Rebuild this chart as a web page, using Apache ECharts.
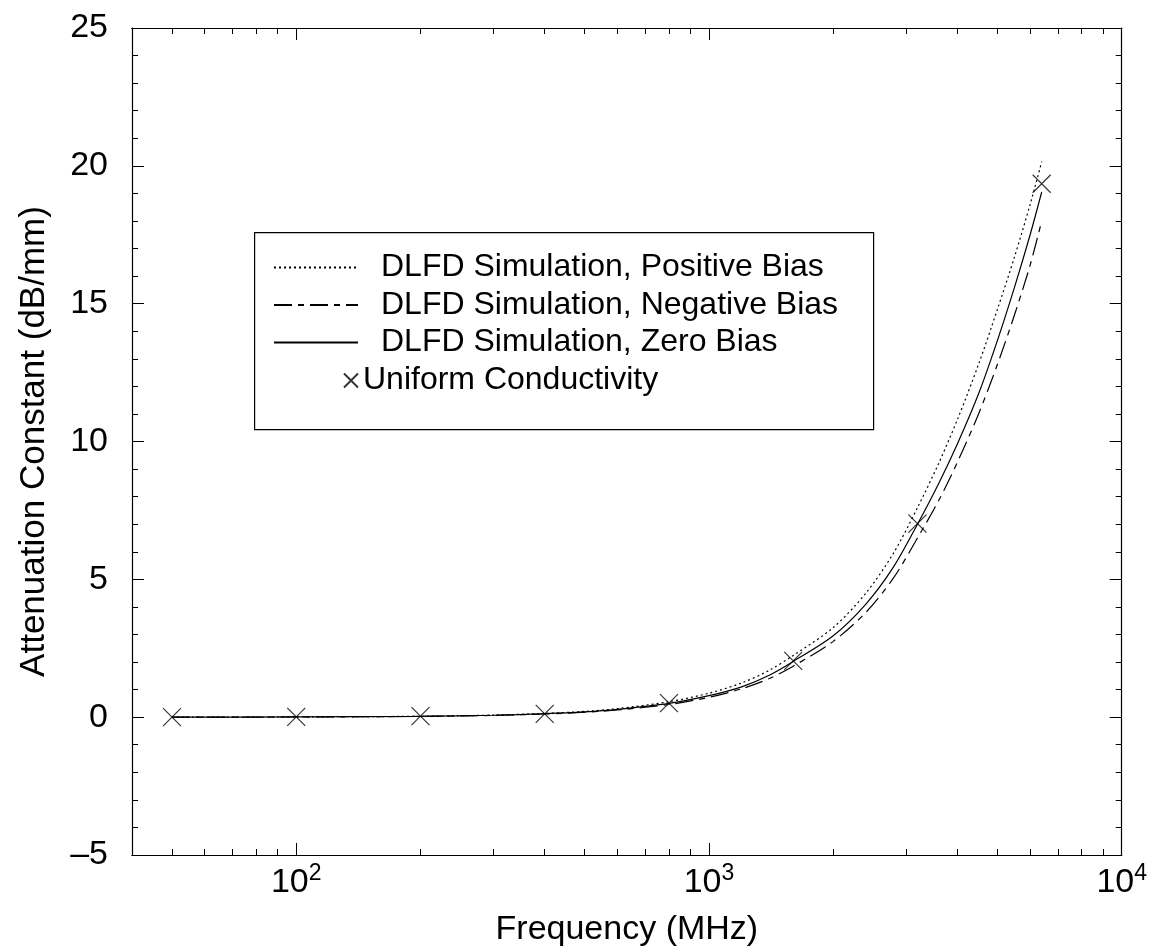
<!DOCTYPE html>
<html>
<head>
<meta charset="utf-8">
<script src="https://cdn.jsdelivr.net/npm/echarts@6/dist/echarts.min.js"></script>
<style>
  html, body { margin: 0; padding: 0; background: #fff; }
  #chart { width: 1150px; height: 952px; }
</style>
</head>
<body>
<div id="chart"></div>
<script>
const freqs = [50, 100, 200, 300, 400, 500, 600, 800, 1000, 1200, 1400, 1600, 2000, 2400, 2800, 3200, 3600, 4000, 4500, 5000, 5500, 6000, 6400]
const positiveBias = [0.002, 0.009, 0.033, 0.075, 0.135, 0.21, 0.31, 0.56, 0.87, 1.24, 1.70, 2.24, 3.25, 4.5, 5.95, 7.6, 9.2, 10.8, 12.8, 14.8, 16.7, 18.6, 20.15]
const negativeBias = [0.002, 0.007, 0.028, 0.065, 0.115, 0.18, 0.26, 0.46, 0.72, 1.03, 1.40, 1.85, 2.75, 3.8, 5.05, 6.5, 7.85, 9.25, 11.0, 12.8, 14.6, 16.4, 18.0]
const zeroBias = [0.002, 0.008, 0.03, 0.07, 0.125, 0.19, 0.28, 0.50, 0.78, 1.10, 1.52, 2.02, 2.95, 4.1, 5.45, 7.0, 8.47, 9.92, 11.73, 13.67, 15.6, 17.5, 19.05]
const uniformFreqs = [50, 100, 200, 400, 800, 1600, 3200, 6400]
const uniformValues = [0.0, 0.01, 0.04, 0.12, 0.51, 2.04, 7.02, 19.35]
const majorTicks = [100, 1000, 10000]
const minorTicks = [50, 60, 70, 80, 90, 200, 300, 400, 500, 600, 700, 800, 900,
  2000, 3000, 4000, 5000, 6000, 7000, 8000, 9000]

const font = 'Liberation Sans, Arial, Helvetica, sans-serif'
const lg = Math.log10
const xMin = lg(40), xMax = lg(10000)
const pts = (fs, vs) => fs.map((f, i) => [lg(f), vs[i]])
const cross = 'path://M0,0L10,10M10,0L0,10'

const chart = echarts.init(document.getElementById('chart'))

const baseX = (pos, ticks, len, labels) => ({
  type: 'value', position: pos, min: xMin, max: xMax,
  axisLine: { show: true, onZero: false, lineStyle: { color: '#000', width: 1.2 } },
  axisTick: { show: true, inside: true, length: len, customValues: ticks.map(lg), lineStyle: { color: '#000', width: 1 } },
  axisLabel: labels ? {
    show: true, margin: 7, customValues: majorTicks.map(lg),
    formatter: v => '{b|10}{s|' + Math.round(v) + '}',
    rich: {
      b: { fontSize: 34, fontFamily: font, color: '#000' },
      s: { fontSize: 23, fontFamily: font, color: '#000', padding: [0, 0, 18, 0] }
    }
  } : { show: false },
  splitLine: { show: false }
})

const baseY = (pos, labels) => ({
  type: 'value', position: pos, min: -5, max: 25, interval: 5,
  axisLine: { show: true, onZero: false, lineStyle: { color: '#000', width: 1.2 } },
  axisTick: { show: true, inside: true, length: 12, lineStyle: { color: '#000', width: 1 } },
  minorTick: { show: true, splitNumber: 5, length: 6, lineStyle: { color: '#000', width: 1 } },
  axisLabel: labels ? {
    show: true, margin: 24, fontSize: 34, fontFamily: font, color: '#000',
    formatter: v => String(v).replace('-', '\u2013')
  } : { show: false },
  splitLine: { show: false }
})

const xBottom = baseX('bottom', majorTicks, 12, true)
xBottom.name = 'Frequency (MHz)'
xBottom.nameLocation = 'middle'
xBottom.nameGap = 58
xBottom.nameTextStyle = { fontSize: 34, fontFamily: font, color: '#000' }

const yLeft = baseY('left', true)
yLeft.name = 'Attenuation Constant (dB/mm)'
yLeft.nameLocation = 'middle'
yLeft.nameGap = 80
yLeft.nameTextStyle = { fontSize: 35, fontFamily: font, color: '#000' }

const lineSeries = (name, vs, type) => ({
  name, type: 'line', data: pts(freqs, vs), xAxisIndex: 0, yAxisIndex: 0,
  showSymbol: false, symbol: 'none', smooth: 0.3,
  lineStyle: { color: '#000', width: 1.2, type },
  itemStyle: { color: '#000' }
})

const option = {
  backgroundColor: '#fff',
  animation: false,
  grid: { left: 132, right: 23, top: 28, bottom: 97 },
  xAxis: [
    xBottom,
    baseX('bottom', minorTicks, 6, false),
    baseX('top', majorTicks, 12, false),
    baseX('top', minorTicks, 6, false)
  ],
  yAxis: [yLeft, baseY('right', false)],
  legend: [{
    orient: 'vertical', left: 273, top: 249, padding: 0,
    itemWidth: 84, itemHeight: 14, itemGap: 0.5,
    itemStyle: { color: 'transparent', borderColor: 'transparent', borderWidth: 0 },
    data: ['DLFD Simulation, Positive Bias', 'DLFD Simulation, Negative Bias', 'DLFD Simulation, Zero Bias'],
    textStyle: { fontSize: 32, fontFamily: font, color: '#000', lineHeight: 37, padding: [0, 0, 0, 18] }
  }, {
    orient: 'vertical', left: 343, top: 362, padding: 0,
    itemWidth: 14, itemHeight: 14,
    data: ['Uniform Conductivity'],
    textStyle: { fontSize: 32, fontFamily: font, color: '#000', lineHeight: 37 }
  }],
  graphic: [{
    type: 'rect', left: 254, top: 232, z: 0,
    shape: { width: 619, height: 197 },
    style: { fill: '#fff', stroke: '#000', lineWidth: 1.2 }
  }],
  series: [
    lineSeries('DLFD Simulation, Positive Bias', positiveBias, [2, 3]),
    lineSeries('DLFD Simulation, Negative Bias', negativeBias, [18, 6, 6, 6]),
    lineSeries('DLFD Simulation, Zero Bias', zeroBias, 'solid'),
    {
      name: 'Uniform Conductivity', type: 'scatter', data: pts(uniformFreqs, uniformValues),
      symbol: cross, symbolSize: 18,
      itemStyle: { color: 'transparent', borderColor: '#000', borderWidth: 1.2 }
    }
  ]
}

chart.setOption(option)
</script>
</body>
</html>
